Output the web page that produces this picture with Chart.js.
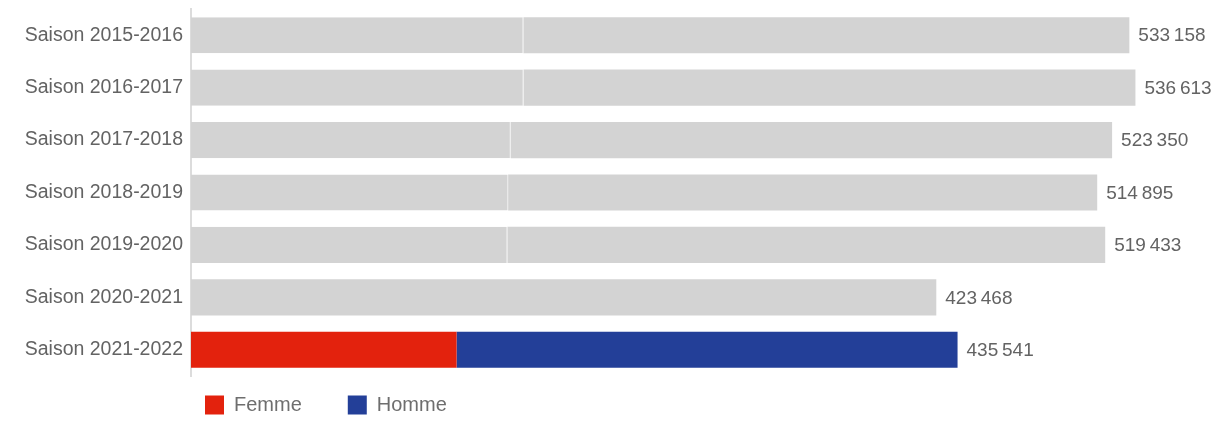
<!DOCTYPE html>
<html>
<head>
<meta charset="utf-8">
<script src="https://cdn.jsdelivr.net/npm/chart.js@4.4.1/dist/chart.umd.min.js"></script>
<style>
  html, body { margin:0; padding:0; background:#fff; }
  #wrap { width:1216px; height:426px; position:relative; }
</style>
</head>
<body>
<div id="wrap"><canvas id="myChart"></canvas></div>
<script>
var saisons = ["Saison 2015-2016","Saison 2016-2017","Saison 2017-2018","Saison 2018-2019","Saison 2019-2020","Saison 2020-2021","Saison 2021-2022"]
var totaux = [533158, 536613, 523350, 514895, 519433, 423468, 435541]
// anciennes saisons (gris)
var femmeGris = [188900, 189000, 181700, 180200, 179800, null, null]
var hommeGris = [344258, 347613, 341650, 334695, 339633, 423468, null]
// saison en cours
var femme = [null, null, null, null, null, null, 150900]
var homme = [null, null, null, null, null, null, 284641]

var gris = "#d3d3d3"
var rouge = "#e3220d"
var bleu = "#233f98"
var texte = "#636363"
var police = '"Liberation Sans", Arial, sans-serif'

function espaces(v){
    return String(v).replace(/\B(?=(\d{3})+(?!\d))/g, "\u2009")
}

var valeurs = {
    id: "valeurs",
    afterDatasetsDraw: function(chart){
        var ctx = chart.ctx
        var x = chart.scales.x, y = chart.scales.y
        ctx.save()
        ctx.font = '19px ' + police
        ctx.fillStyle = texte
        ctx.textBaseline = "middle"
        ctx.textAlign = "left"
        totaux.forEach(function(t, i){
            ctx.fillText(espaces(t), x.getPixelForValue(t) + 9, y.getPixelForValue(i) + 1)
        })
        ctx.restore()
    },
    beforeDraw: function(chart){
        // legende alignee sous les barres
        var lg = chart.legend
        var p = lg.options.labels.padding
        lg.left = 205 - p
        lg.top = 395 - p
    }
}

var myChart = document.getElementById("myChart").getContext("2d")

var chart = new Chart(myChart, {
    type: "bar",
    data: {
        labels: saisons,
        datasets: [
            { label: "Femme (gris)", data: femmeGris, backgroundColor: gris,
              borderColor: "#e9e9e9", borderWidth: {top:0, right:1, bottom:0, left:0}, borderSkipped: false },
            { label: "Homme (gris)", data: hommeGris, backgroundColor: gris, borderWidth: 0 },
            { label: "Femme", data: femme, backgroundColor: rouge, borderWidth: 0 },
            { label: "Homme", data: homme, backgroundColor: bleu, borderWidth: 0 }
        ]
    },
    options: {
        indexAxis: "y",
        responsive: true,
        maintainAspectRatio: false,
        animation: false,
        datasets: { bar: { categoryPercentage: 1, barPercentage: 0.69 } },
        layout: { padding: { top: 9, right: 13, bottom: 0, left: 0 } },
        scales: {
            x: { stacked: true, display: false, min: 0, max: 575000 },
            y: {
                stacked: true,
                grid: { display: false, drawTicks: false },
                border: { display: true, color: "#dcdcdc", width: 2 },
                ticks: { color: texte, padding: 8, font: { family: police, size: 19.5 } },
                afterFit: function(scale){
                    scale.width = 191
                    scale.paddingTop = 0
                    scale.paddingBottom = 0
                }
            }
        },
        plugins: {
            tooltip: { enabled: false },
            legend: {
                position: "bottom",
                align: "start",
                maxHeight: 50,
                labels: {
                    boxWidth: 19, boxHeight: 19, padding: 46,
                    color: "#6e6e6e",
                    font: { family: police, size: 20 },
                    filter: function(item){ return item.datasetIndex >= 2 }
                }
            }
        }
    },
    plugins: [valeurs]
})
</script>
</body>
</html>
